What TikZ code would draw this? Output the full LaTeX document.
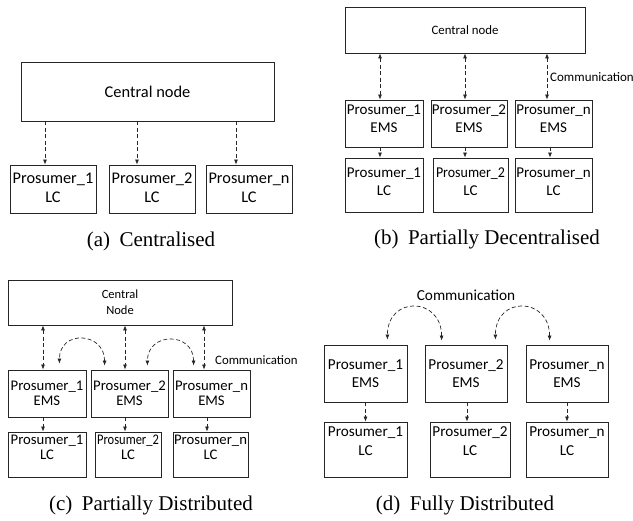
\documentclass[tikz,border=0pt]{standalone}
\usepackage{fontspec}
\setmainfont{Liberation Serif}
\newfontfamily\carlito{Carlito}
\usetikzlibrary{arrows.meta}

% box with its two-line text set at its centre, lifted as asked
% #1 name, #2 x, #3 y, #4 width, #5 height, #6 text options, #7 text
\newcommand\pbox[7]{%
  \node[box, minimum width=#4, minimum height=#5,
        label={[pt, #6]center:#7}] (#1) at (#2,#3) {};}
% horizontally narrowed text for the tighter boxes
\newcommand\narrow[2]{\scalebox{#1}[1]{#2}}

\begin{document}
\begin{tikzpicture}[x=1pt, y=-1pt,
  box/.style={draw=black!85, line width=0.8pt, inner sep=0pt},
  fs/.style n args={2}{font={\carlito\fontsize{#1}{#2}\selectfont}},
  pt/.style={align=center, inner sep=0pt},
  smalltip/.tip={Latex[length=5pt, width=4pt]},
  link/.style={draw=black!85, line width=0.7pt, dash pattern=on 4pt off 2.5pt},
  arr/.style={link, -smalltip},
  darr/.style={link, smalltip-smalltip},
  captxt/.style={inner sep=0pt, anchor=base, font=\fontsize{21}{25}\selectfont}]

\useasboundingbox (0,0) rectangle (633,521);

% ---------------- (a) centralised ----------------
\begin{scope}[pt/.append style={fs={16.3}{19}}]
  \node[box, fs={16.4}{19}, minimum width=253, minimum height=59] (a-c) at (147.5,91.5) {Central node};
  \pbox{a-l1}{53}{189}{86}{48}{yshift=1.5pt}{Prosumer\_1\\LC}
  \pbox{a-l2}{152}{189}{86}{48}{yshift=1.5pt}{Prosumer\_2\\LC}
  \pbox{a-l3}{249}{189}{86}{48}{yshift=1.5pt}{Prosumer\_n\\LC}
  \draw[arr] ([xshift=-8pt]a-l1.north |- a-c.south) -- ([xshift=-8pt]a-l1.north);
  \draw[arr] ([xshift=-15pt]a-l2.north |- a-c.south) -- ([xshift=-15pt]a-l2.north);
  \draw[arr] ([xshift=-13pt]a-l3.north |- a-c.south) -- ([xshift=-13pt]a-l3.north);
  \node[captxt] (a-cap) at (151,247) {(a)\hspace{0.45em}Centralised};
\end{scope}

% ---------------- (b) partially decentralised ----------------
\begin{scope}[pt/.append style={fs={15}{18}}]
  \node[box, fs={12.8}{15}, minimum width=240, minimum height=46] (b-c) at (465,30) {Central node};
  \pbox{b-e1}{384}{123.5}{78}{47}{yshift=4.5pt}{Prosumer\_1\\EMS}
  \pbox{b-e2}{469}{123.5}{76}{47}{yshift=4.5pt}{Prosumer\_2\\EMS}
  \pbox{b-e3}{553.5}{123.5}{77}{47}{yshift=4.5pt}{Prosumer\_n\\EMS}
  \pbox{b-l1}{384}{185}{78}{54}{yshift=3.5pt}{Prosumer\_1\\LC}
  \pbox{b-l2}{470.5}{185}{75}{54}{yshift=3.5pt}{\narrow{0.93}{Prosumer\_2}\\LC}
  \pbox{b-l3}{553.5}{185}{77}{54}{yshift=3.5pt}{Prosumer\_n\\LC}
  \draw[darr] ([xshift=-4pt]b-e1.north |- b-c.south) -- ([xshift=-4pt]b-e1.north);
  \draw[darr] ([xshift=-4pt]b-e2.north |- b-c.south) -- ([xshift=-4pt]b-e2.north);
  \draw[darr] ([xshift=-6.5pt]b-e3.north |- b-c.south) -- ([xshift=-6.5pt]b-e3.north);
  \draw[arr] ([xshift=-4pt]b-e1.south) -- ([xshift=-4pt]b-e1.south |- b-l1.north);
  \draw[arr] ([xshift=-4pt]b-e2.south) -- ([xshift=-4pt]b-e2.south |- b-l2.north);
  \draw[arr] ([xshift=-3.5pt]b-e3.south) -- ([xshift=-3.5pt]b-e3.south |- b-l3.north);
  \node[fs={13}{15}, inner sep=0pt, anchor=west] (b-com) at (550,77) {Communication};
  \node[captxt] (b-cap) at (487,245) {(b)\hspace{0.45em}Partially Decentralised};
\end{scope}

% ---------------- (c) partially distributed ----------------
\begin{scope}[pt/.append style={fs={14.7}{15.5}}]
  \node[box, fs={12.5}{16}, align=center, minimum width=224, minimum height=45] (c-c) at (120,302.5) {Central\\Node};
  \pbox{c-e1}{47}{393.5}{78}{47}{}{Prosumer\_1\\EMS}
  \pbox{c-e2}{129.5}{393.5}{77}{47}{}{Prosumer\_2\\EMS}
  \pbox{c-e3}{211.5}{393.5}{77}{47}{}{Prosumer\_n\\EMS}
  \pbox{c-l1}{47}{454.5}{78}{45}{yshift=7pt}{Prosumer\_1\\LC}
  \pbox{c-l2}{128}{454.5}{66}{45}{yshift=7pt}{\narrow{0.85}{Prosumer\_2}\\LC}
  \pbox{c-l3}{210.5}{454.5}{75}{45}{yshift=7pt}{Prosumer\_n\\LC}
  \draw[darr] ([xshift=-4pt]c-e1.north |- c-c.south) -- ([xshift=-4pt]c-e1.north);
  \draw[darr] ([xshift=-4.5pt]c-e2.north |- c-c.south) -- ([xshift=-4.5pt]c-e2.north);
  \draw[darr] ([xshift=-7.5pt]c-e3.north |- c-c.south) -- ([xshift=-7.5pt]c-e3.north);
  \draw[arr] ([xshift=-4pt]c-e1.south) -- ([xshift=-4pt]c-e1.south |- c-l1.north);
  \draw[arr] ([xshift=-4.5pt]c-e2.south) -- ([xshift=-4.5pt]c-e2.south |- c-l2.north);
  \draw[arr] ([xshift=-4.5pt]c-e3.south) -- ([xshift=-4.5pt]c-e3.south |- c-l3.north);
  % peer links between neighbouring EMS boxes
  \draw[darr] ([shift={(14pt,4pt)}]c-e2.north west) .. controls +(0,-34) and +(0,-34) .. ([shift={(-27pt,6pt)}]c-e1.north east);
  \draw[darr] ([shift={(21pt,4pt)}]c-e3.north west) .. controls +(0,-34) and +(0,-34) .. ([shift={(-21pt,4pt)}]c-e2.north east);
  \node[fs={12.8}{15}, inner sep=0pt, anchor=west] (c-com) at (215,360) {Communication};
  \node[captxt] (c-cap) at (151,511) {(c)\hspace{0.45em}Partially Distributed};
\end{scope}

% ---------------- (d) fully distributed ----------------
\begin{scope}[pt/.append style={fs={15.2}{18.5}}]
  \pbox{d-e1}{365.5}{373.5}{83}{57}{}{Prosumer\_1\\EMS}
  \pbox{d-e2}{466}{373.5}{82}{57}{}{Prosumer\_2\\EMS}
  \pbox{d-e3}{567}{373.5}{82}{57}{}{Prosumer\_n\\EMS}
  \pbox{d-l1}{365.5}{449.5}{83}{55}{yshift=8.5pt}{Prosumer\_1\\LC}
  \pbox{d-l2}{470}{449.5}{80}{55}{yshift=8.5pt}{Prosumer\_2\\LC}
  \pbox{d-l3}{567}{449.5}{82}{55}{yshift=8.5pt}{Prosumer\_n\\LC}
  \draw[arr] (d-e1.south) -- (d-e1.south |- d-l1.north);
  \draw[arr] ([xshift=1pt]d-e2.south) -- ([xshift=1pt]d-e2.south |- d-l2.north);
  \draw[arr] (d-e3.south) -- (d-e3.south |- d-l3.north);
  % peer links between neighbouring EMS boxes
  \draw[darr] ([shift={(17pt,4pt)}]d-e2.north west) .. controls +(0,-44) and +(0,-44) .. ([shift={(-20pt,5pt)}]d-e1.north east);
  \draw[darr] ([shift={(24pt,4pt)}]d-e3.north west) .. controls +(0,-44) and +(0,-44) .. ([shift={(-12pt,5pt)}]d-e2.north east);
  \node[fs={15.3}{18}, inner sep=0pt] (d-com) at (466,295) {Communication};
  \node[captxt] (d-cap) at (465,511) {(d)\hspace{0.45em}Fully Distributed};
\end{scope}
\end{tikzpicture}
\end{document}
